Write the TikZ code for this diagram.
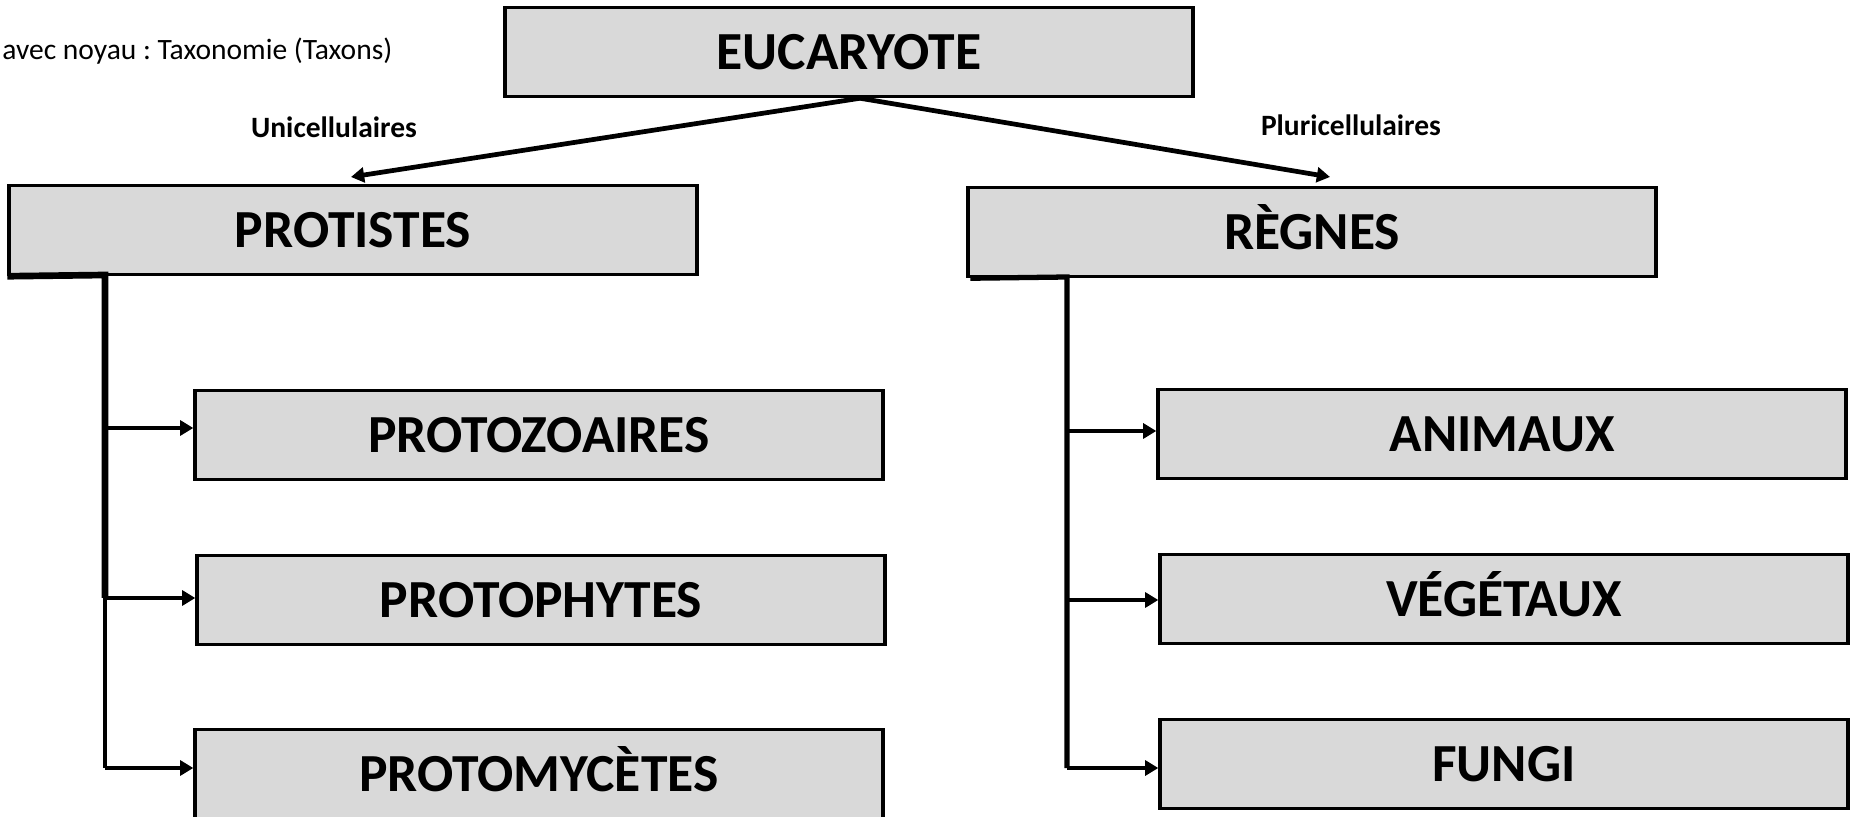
\documentclass[tikz,border=0pt]{standalone}
\usepackage{fontspec}
\setmainfont{Carlito}
\usetikzlibrary{calc,arrows.meta}
\definecolor{fondgris}{HTML}{D9D9D9}
\frenchspacing

\begin{document}
\begin{tikzpicture}[x=0.02cm,y=-0.02cm,
    taxon/.style={draw=black,line width=2pt,fill=fondgris,
        minimum width=13.76cm,minimum height=1.78cm,inner sep=0pt,
        text height=19.6pt,text depth=0pt,
        font=\bfseries\fontsize{30.5}{36}\selectfont},
    lien/.style={line width=2.7pt,-{Triangle[length=7.5pt,width=8.5pt]}},
    legende/.style={font=\bfseries\fontsize{16.8}{20}\selectfont}]

    \useasboundingbox (0,0) rectangle (1854,817);

    \newcommand{\branche}[3]{
        \draw[lien] (#1,#2) -- (#3.west |- 0,#2);
    }

    % les taxons
    \node[taxon] (euc) at (849,52) {EUCARYOTE};
    \node[taxon] (prot) at (353,230) {PROTISTES};
    \node[taxon] (reg) at (1312,232) {RÈGNES};
    \node[taxon] (pz) at (539,435) {PROTOZOAIRES};
    \node[taxon] (pp) at (541,600) {PROTOPHYTES};
    \node[taxon] (pm) at (539,774) {PROTOMYCÈTES};
    \node[taxon] (ani) at (1502,434) {ANIMAUX};
    \node[taxon] (veg) at (1504,599) {VÉGÉTAUX};
    \node[taxon] (fun) at (1504,764) {FUNGI};

    \node[anchor=west,inner sep=0pt,font=\fontsize{16.8}{20}\selectfont] (titre)
        at (2,51) {avec noyau : Taxonomie (Taxons)};
    \node[legende] (uni) at (334,127) {Unicellulaires};
    \node[legende] (pluri) at (1351,125) {Pluricellulaires};

    % depuis eucaryote
    \coordinate (depart) at ($(euc.south)+(11,0)$);
    \coordinate (versprot) at (351,177);
    \coordinate (versreg) at (1330,177);
    \draw[lien] (depart) -- (versprot);
    \draw[lien] (depart) -- (versreg);

    % protistes
    \coordinate (tg) at (105,275);
    \draw[line width=3.8pt] (prot.south west) -- (tg) -- (105,598);
    \draw[line width=2.7pt] (105,596) -- (105,768);
    \branche{105}{428}{pz}
    \branche{105}{598}{pp}
    \branche{105}{768}{pm}

    % regnes
    \coordinate (td) at (1067,277);
    \draw[line width=3pt] ($(reg.south west)+(4,0)$) -- (td) -- (1067,768);
    \branche{1067}{431}{ani}
    \branche{1067}{600}{veg}
    \branche{1067}{768}{fun}

\end{tikzpicture}
\end{document}
